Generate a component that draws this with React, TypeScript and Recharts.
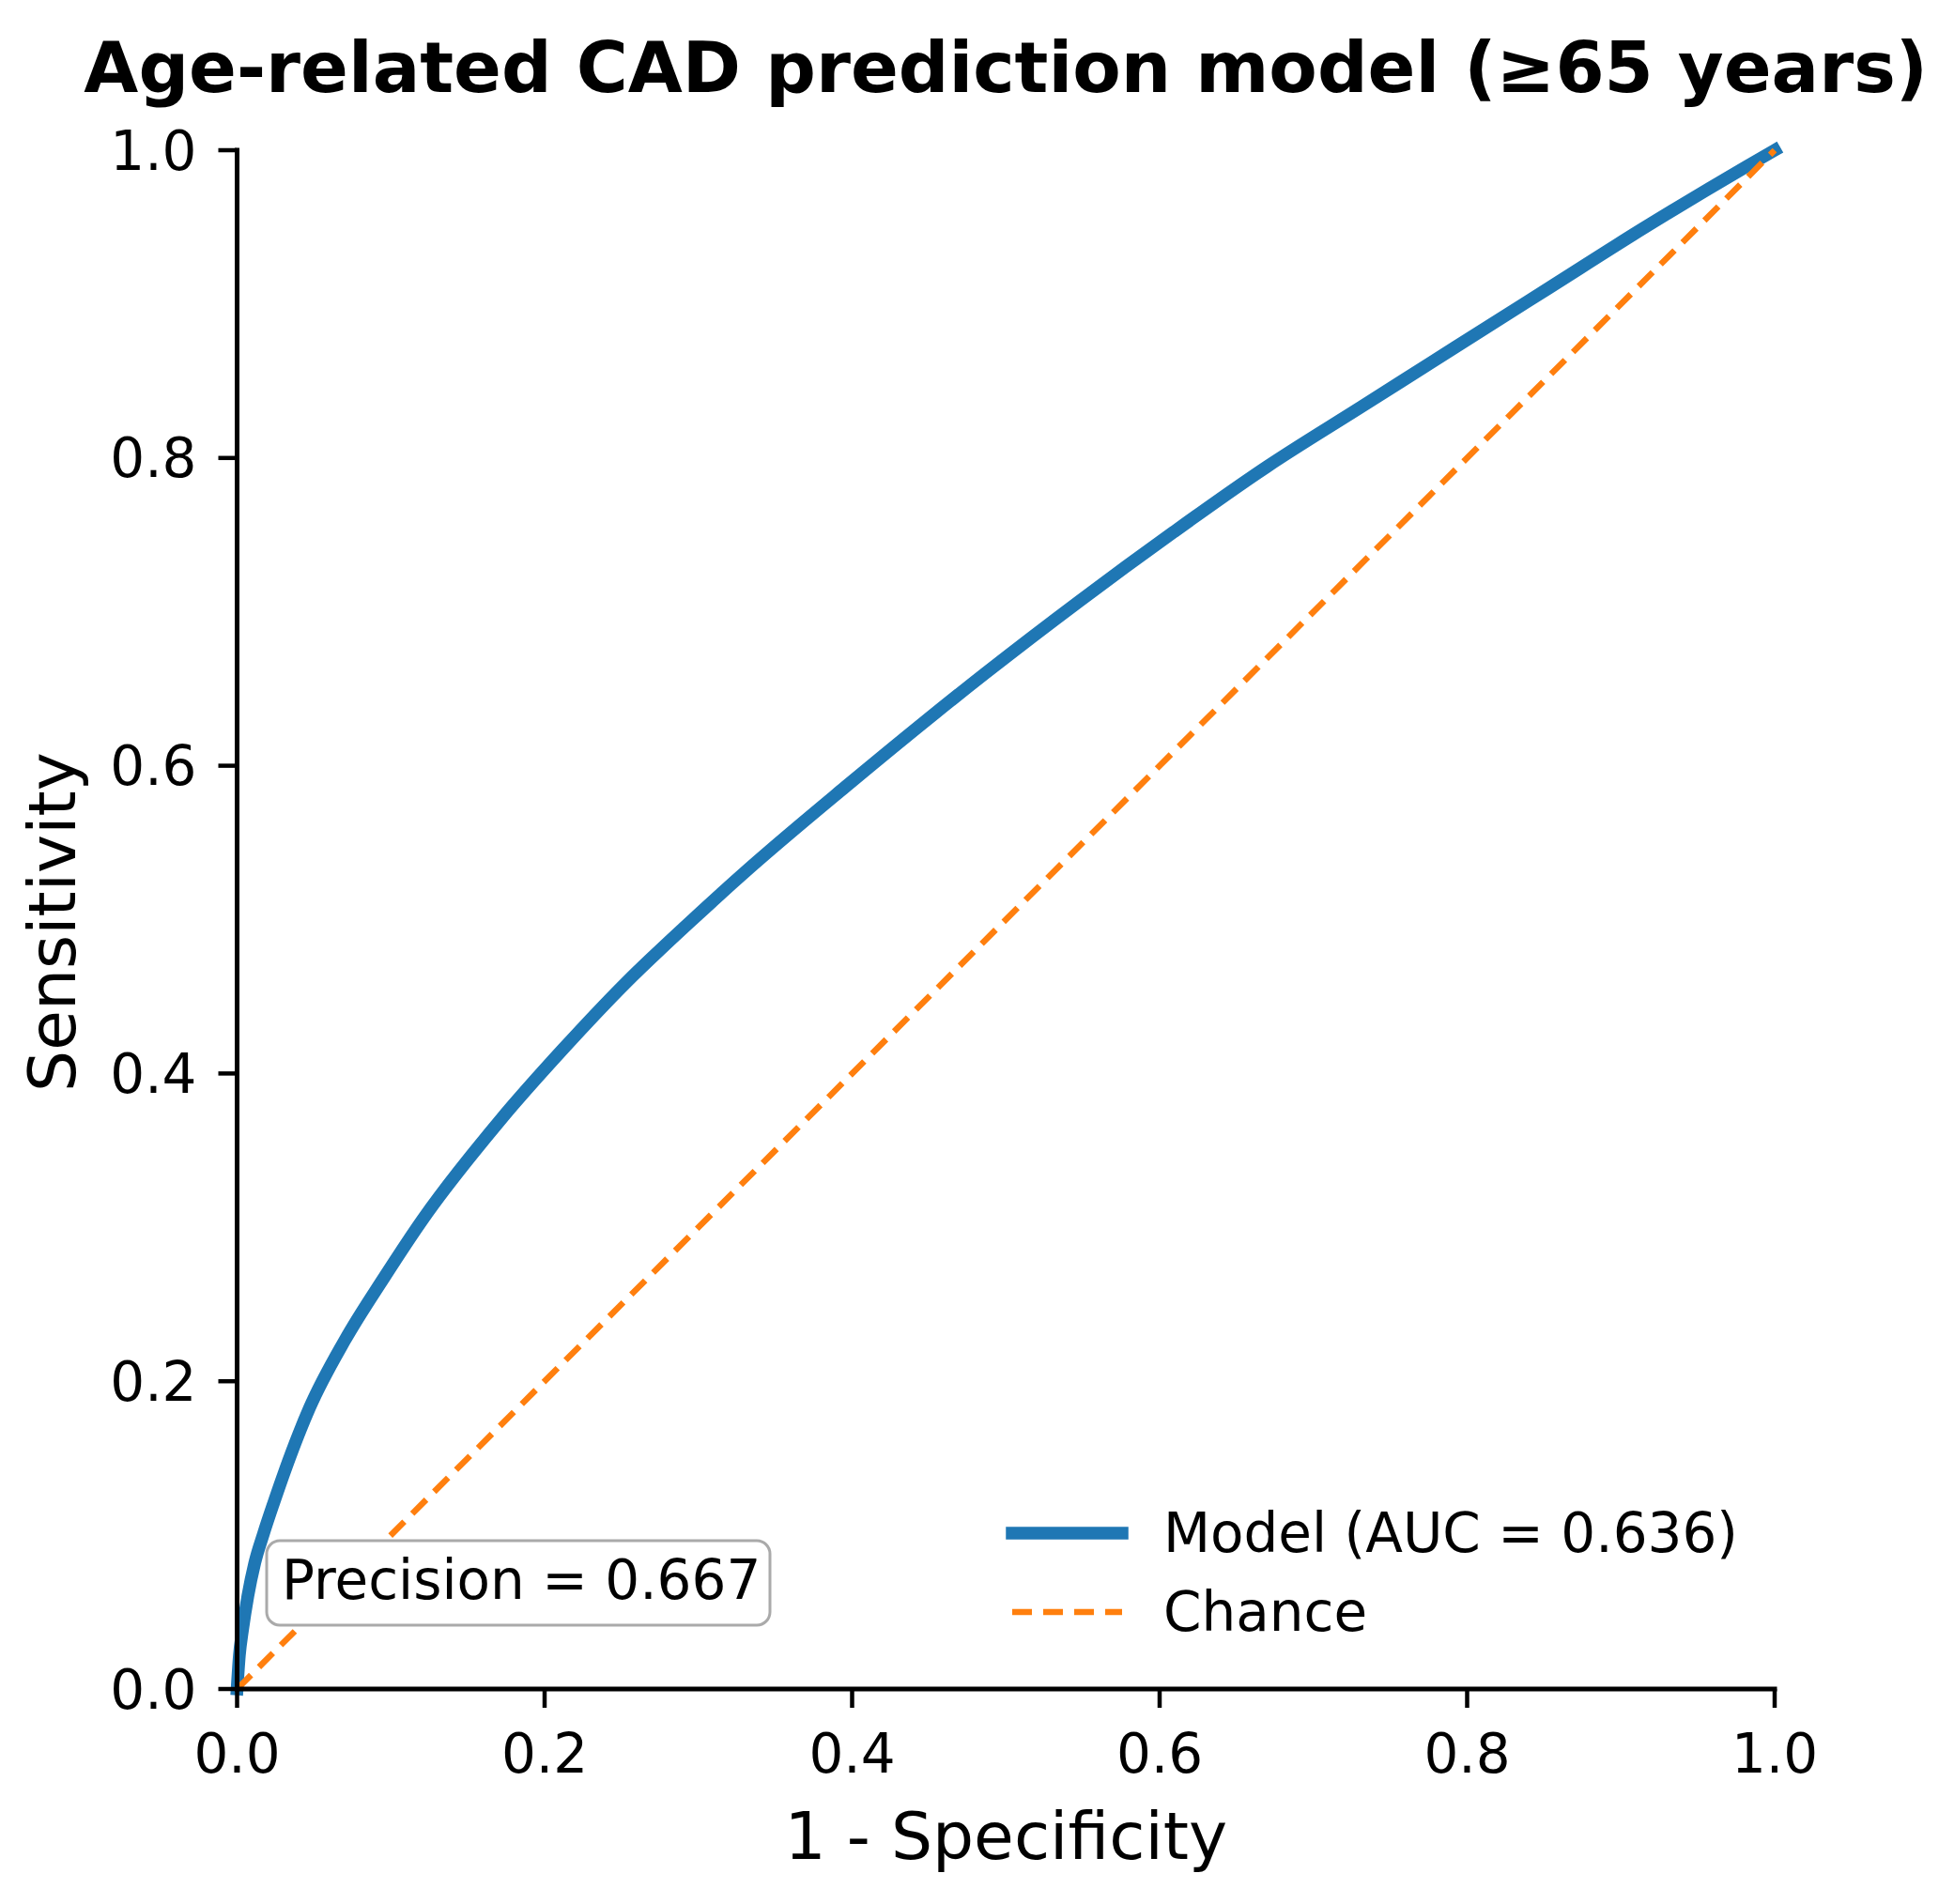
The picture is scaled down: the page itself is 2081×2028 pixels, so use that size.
import React from 'react';
import { LineChart, Line, XAxis, YAxis, Legend } from 'recharts';

const FONT = "'DejaVu Sans', 'Liberation Sans', sans-serif";

// ROC curve: false positive rate (1 - specificity) vs sensitivity
const fpr = [
  0, 0.0015, 0.0035, 0.007, 0.0115, 0.0172, 0.024, 0.031, 0.047, 0.07, 0.096,
  0.1206, 0.1714, 0.2121, 0.2529, 0.2935, 0.3342, 0.3953, 0.4869, 0.548, 0.609,
  0.67, 0.7311, 0.7921, 0.8532, 0.9142, 0.981, 1,
];
const tpr = [
  0, 0.022, 0.038, 0.0604, 0.082, 0.101, 0.1215, 0.1416, 0.1824, 0.2265, 0.268,
  0.305, 0.37, 0.416, 0.459, 0.4975, 0.5343, 0.586, 0.6603, 0.7071, 0.7518,
  0.7945, 0.8332, 0.8719, 0.9105, 0.949, 0.989, 1,
];

// Reference diagonal (random classifier)
const chanceFpr = [0, 1];
const chanceTpr = [0, 1];

const axisTicks = [0, 0.2, 0.4, 0.6, 0.8, 1.0];

const titleText = 'Age-related CAD prediction model (≥65 years)';
const xAxisTitle = '1 - Specificity';
const yAxisTitle = 'Sensitivity';
const modelName = 'Model (AUC = 0.636)';
const chanceName = 'Chance';
const precisionLabel = 'Precision = 0.667';

const rocData = fpr.map((x, i) => ({ x, y: tpr[i] }));
const chanceData = chanceFpr.map((x, i) => ({ x, y: chanceTpr[i] }));

const series = [
  { name: modelName, color: '#1f77b4', width: 13.5, dash: undefined as string | undefined, cap: 'square' as const },
  { name: chanceName, color: '#ff7f0e', width: 6.5, dash: '21 12', cap: 'butt' as const },
];

const W = 2081;
const H = 2028;
const Y_AXIS_W = 200;
const X_AXIS_H = 150;
const PLOT = { left: 252.5, top: 160, right: 1890, bottom: 1799 };

const fmt = (v: number) => v.toFixed(1);

const renderXTitle = () => (
  <text
    x={(PLOT.left + PLOT.right) / 2}
    y={1980}
    textAnchor="middle"
    fontSize={69.5}
    fontFamily={FONT}
    fill="#000"
  >
    {xAxisTitle}
  </text>
);

const renderYTitle = () => {
  const cx = 80;
  const cy = 982;
  return (
    <text
      x={cx}
      y={cy}
      transform={`rotate(-90, ${cx}, ${cy})`}
      textAnchor="middle"
      fontSize={69.5}
      fontFamily={FONT}
      fill="#000"
    >
      {yAxisTitle}
    </text>
  );
};

const LegendContent = () => (
  <svg width={420} height={170} style={{ display: 'block', overflow: 'visible' }}>
    {series.map((s, i) => {
      const cy = 43 + i * 84;
      return (
        <g key={s.name}>
          <line
            x1={18}
            x2={135}
            y1={cy}
            y2={cy}
            stroke={s.color}
            strokeWidth={s.width}
            strokeDasharray={s.dash}
            strokeLinecap={s.cap}
          />
          <text x={179} y={cy + 20} fontSize={58} fontFamily={FONT} fill="#000">
            {s.name}
          </text>
        </g>
      );
    })}
  </svg>
);

export default function App() {
  return (
    <div
      style={{
        position: 'absolute',
        left: 0,
        top: 0,
        width: W,
        height: H,
        background: '#fff',
        overflow: 'hidden',
      }}
    >
      <LineChart
        width={W}
        height={H}
        margin={{
          top: PLOT.top,
          right: W - PLOT.right,
          bottom: H - PLOT.bottom - X_AXIS_H,
          left: PLOT.left - Y_AXIS_W,
        }}
      >
        <XAxis
          type="number"
          dataKey="x"
          domain={[0, 1]}
          ticks={axisTicks}
          interval={0}
          tickFormatter={fmt}
          height={X_AXIS_H}
          tickSize={20}
          tickMargin={28}
          axisLine={{ stroke: '#000', strokeWidth: 5, strokeLinecap: 'square' }}
          tickLine={{ stroke: '#000', strokeWidth: 4.5 }}
          tick={{ fill: '#000', fontSize: 58, fontFamily: FONT }}
          label={renderXTitle}
        />
        <YAxis
          type="number"
          dataKey="y"
          domain={[0, 1]}
          ticks={axisTicks}
          interval={0}
          tickFormatter={fmt}
          width={Y_AXIS_W}
          tickSize={20}
          tickMargin={23}
          axisLine={{ stroke: '#000', strokeWidth: 5, strokeLinecap: 'square' }}
          tickLine={{ stroke: '#000', strokeWidth: 4.5 }}
          tick={{ fill: '#000', fontSize: 58, fontFamily: FONT }}
          label={renderYTitle}
        />
        <Line
          data={rocData}
          dataKey="y"
          name={series[0].name}
          type="monotone"
          stroke={series[0].color}
          strokeWidth={series[0].width}
          strokeLinecap="square"
          strokeLinejoin="round"
          dot={false}
          activeDot={false}
          isAnimationActive={false}
        />
        <Line
          data={chanceData}
          dataKey="y"
          name={series[1].name}
          type="linear"
          stroke={series[1].color}
          strokeWidth={series[1].width}
          strokeDasharray={series[1].dash}
          dot={false}
          activeDot={false}
          isAnimationActive={false}
        />
        <Legend
          layout="vertical"
          align="center"
          verticalAlign="middle"
          content={LegendContent}
          wrapperStyle={{ left: 1060, top: 1590, width: 420, height: 170 }}
        />
      </LineChart>
      <svg
        width={W}
        height={H}
        style={{ position: 'absolute', left: 0, top: 0, pointerEvents: 'none' }}
      >
        <text
          x={(PLOT.left + PLOT.right) / 2}
          y={98}
          textAnchor="middle"
          fontSize={75}
          fontWeight="bold"
          fontFamily={FONT}
          fill="#000"
        >
          {titleText}
        </text>
        <rect
          x={284}
          y={1641}
          width={536}
          height={90}
          rx={14}
          ry={14}
          fill="#fff"
          stroke="#aaaaaa"
          strokeWidth={3}
        />
        <text x={300} y={1703} fontSize={58} fontFamily={FONT} fill="#000">
          {precisionLabel}
        </text>
      </svg>
    </div>
  );
}
